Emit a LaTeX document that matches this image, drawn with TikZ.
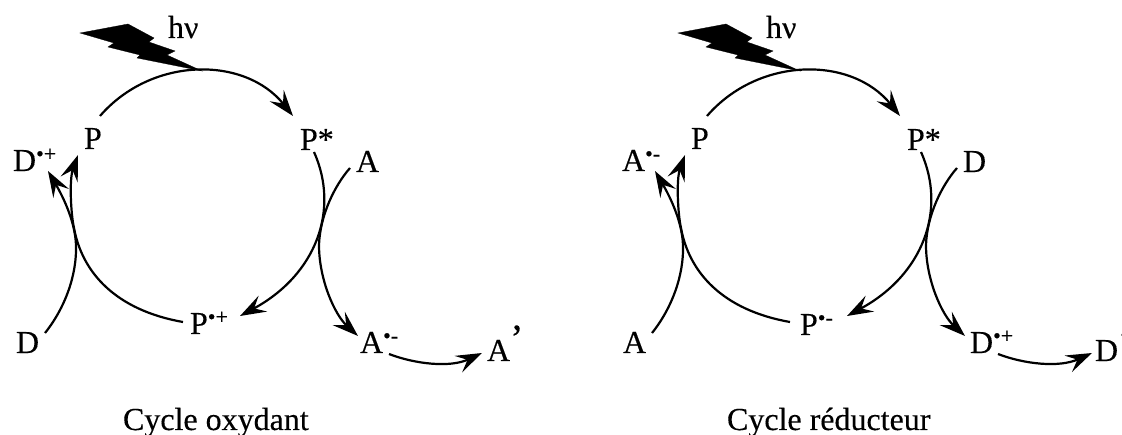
\documentclass[tikz,border=0pt]{standalone}
\usepackage{fontspec}
\setmainfont[FakeBold=0.3]{Liberation Serif}
\usetikzlibrary{arrows.meta}
\newcommand{\sps}[1]{\raisebox{10pt}{\fontsize{22}{24}\selectfont #1}}
\newcommand{\qte}{\raisebox{9pt}{\fontsize{40}{44}\selectfont ’}}
\tikzset{
  lbl/.style={anchor=base west,inner sep=0pt,outer sep=0pt,font=\fontsize{32}{36}\selectfont},
  conn/.style={line width=2.2pt,-{Stealth[length=26pt,width=18pt,inset=10pt]}},
  bolt/.style={fill=black,draw=black,line width=0.3pt,line join=miter}
}
\newcommand{\cycleconnectors}{%
  \coordinate (ts) at (100,116);
  \coordinate (te) at (293,116);
  \coordinate (rs) at (314,152);
  \coordinate (re) at (240,316);
  \coordinate (ls) at (183,322);
  \coordinate (lm) at (74,228);
  \coordinate (le) at (78,155);
  \coordinate (ds) at (45,333);
  \coordinate (dm) at (76,245);
  \coordinate (de) at (48,171);
  \coordinate (as) at (350,168);
  \coordinate (am) at (319,245);
  \coordinate (ae) at (358,336);
  \draw[conn] (ts) .. controls (152,56) and (245,56) .. (te);
  \draw[conn] (rs) .. controls (340,210) and (316,275) .. (re);
  \draw[conn] (ls) .. controls (115,310) and (82,272) .. (lm) .. controls (71,215) and (69,180) .. (le);
  \draw[conn] (ds) .. controls (65,308) and (77,275) .. (dm) .. controls (75,220) and (62,195) .. (de);
  \draw[conn] (as) .. controls (335,185) and (320,215) .. (am) .. controls (319,280) and (335,315) .. (ae);
}
\newcommand{\boltshape}{%
  \fill[bolt] (80,33) -- (128,24) -- (154,38) -- (149,42) -- (175,51) -- (167,55) -- (202,71)
    -- (137,58) -- (140,55) -- (108,47) -- (114,43) -- cycle;
  \node[lbl] (hnu) at (168,38) {hν};
}
\begin{document}
\begin{tikzpicture}[x=1pt,y=-1pt]
\useasboundingbox (0,0) rectangle (1122,435);
% left cycle
\begin{scope}[name prefix=L-]
  \cycleconnectors
  \boltshape
  \node[lbl] (p) at (84,149) {P};
  \node[lbl] (ox) at (13,171) {D\sps{•+}};
  \node[lbl] (pstar) at (300,150) {P*};
  \node[lbl] (a) at (356,172) {A};
  \node[lbl] (d) at (16,353) {D};
  \node[lbl] (pion) at (190,334) {P\sps{•+}};
  \node[lbl] (red) at (360,353) {A\sps{•-}};
  \node[lbl] (final) at (487,361) {A\qte};
  \node[lbl] (title) at (123,430) {Cycle oxydant};
  \coordinate (fs) at (389,354);
  \coordinate (fe) at (482,353);
  \draw[conn] (fs) .. controls (415,364) and (450,368) .. (fe);
\end{scope}
% right cycle
\begin{scope}[name prefix=R-,xshift=607pt]
  \cycleconnectors
  \begin{scope}[xshift=-9pt]\boltshape\end{scope}
  \node[lbl] (p) at (84,149) {P};
  \node[lbl] (red) at (15,171) {A\sps{•-}};
  \node[lbl] (pstar) at (300,150) {P*};
  \node[lbl] (d) at (356,172) {D};
  \node[lbl] (a) at (16,353) {A};
  \node[lbl] (pion) at (193,335) {P\sps{•-}};
  \node[lbl] (ox) at (363,353) {D\sps{•+}};
  \node[lbl] (final) at (488,361) {D\qte};
  \node[lbl] (title) at (120,430) {Cycle réducteur};
  \coordinate (fs) at (391,354);
  \coordinate (fe) at (485,353);
  \draw[conn] (fs) .. controls (417,364) and (452,368) .. (fe);
\end{scope}
\end{tikzpicture}
\end{document}
